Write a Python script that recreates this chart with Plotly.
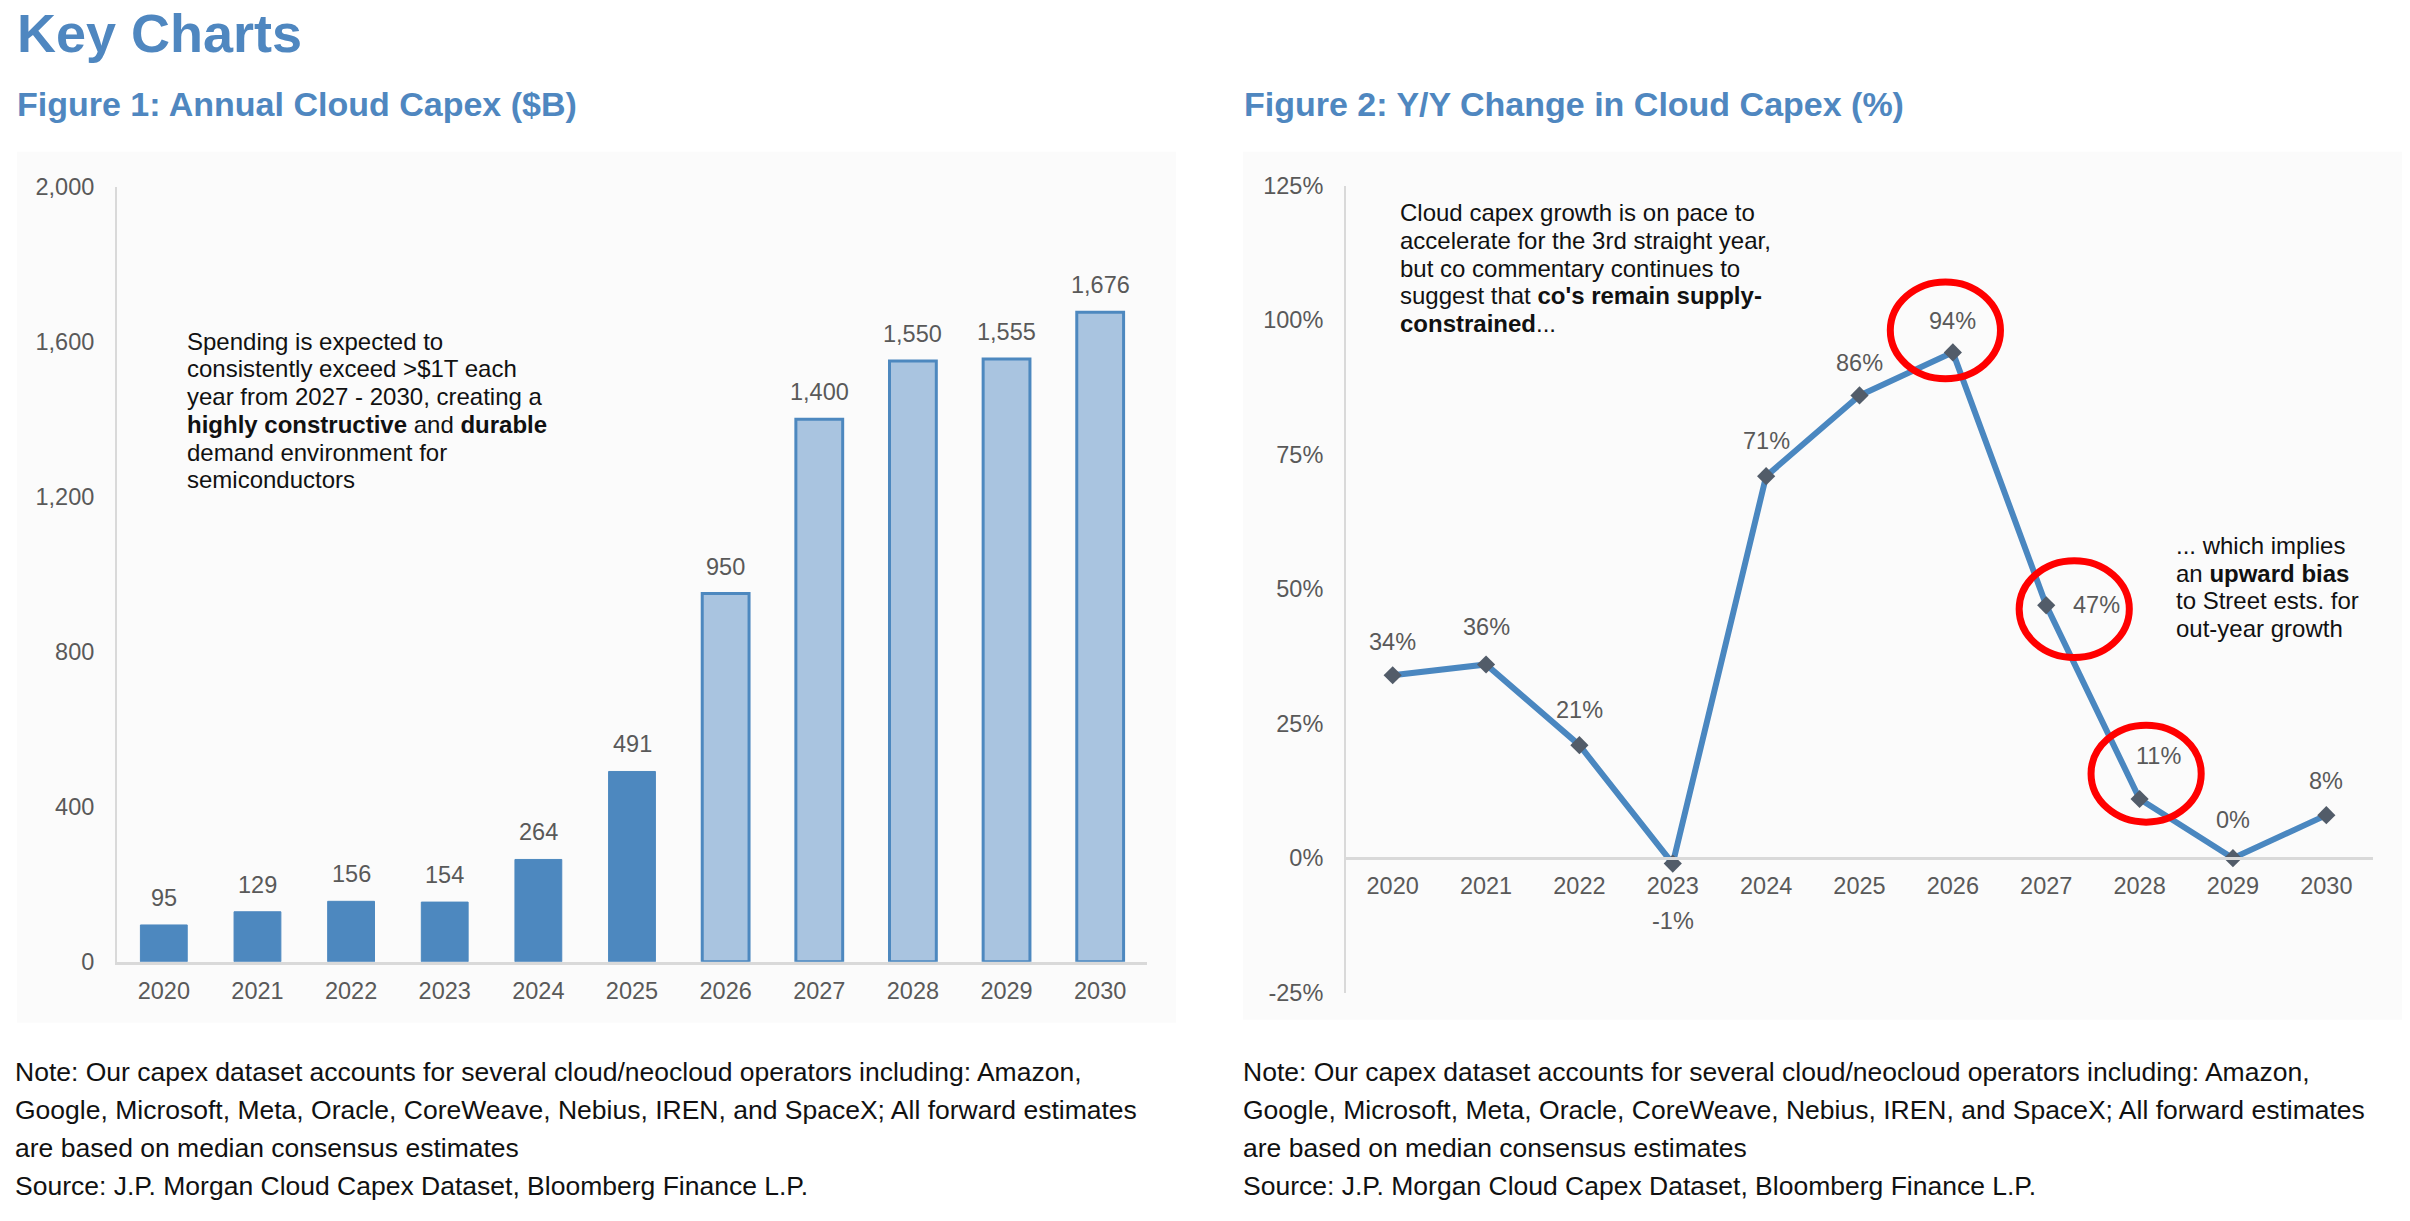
import plotly.graph_objects as go

# data
years = ["2020", "2021", "2022", "2023", "2024", "2025", "2026", "2027", "2028", "2029", "2030"]
capex = [95, 129, 156, 154, 264, 491, 950, 1400, 1550, 1555, 1676]
first_estimate_year = "2026"
yoy_change = [34, 36, 21, -1, 71, 86, 94, 47, 11, 0, 8]
highlight_years = ["2026", "2027", "2028"]

capex_ticks = [0, 400, 800, 1200, 1600, 2000]
yoy_ticks = [-25, 0, 25, 50, 75, 100, 125]

# styling
W, H = 2410, 1221
BLUE = "#4d88bf"
LIGHT_BLUE = "#a9c4e0"
TITLE_BLUE = "#4f87c0"
GRAY_TXT = "#595959"
AXIS_GRAY = "#d9d9d9"
FONT = "Liberation Sans, Arial, sans-serif"


def px(x):
    return x / W


def py(y):
    # screen y (px from top) -> paper y, with a small correction for the capture
    y = (y - 13) / 0.981
    return 1 - y / H


split = years.index(first_estimate_year)
idx = list(range(len(years)))

fig = go.Figure()

# Figure 1 - bars
fig.add_trace(go.Bar(
    x=years[:split], y=capex[:split],
    marker=dict(color=BLUE, line=dict(color=BLUE, width=1)),
    width=0.5, xaxis="x", yaxis="y", hoverinfo="x+y",
))
fig.add_trace(go.Bar(
    x=years[split:], y=capex[split:],
    marker=dict(color=LIGHT_BLUE, line=dict(color=BLUE, width=3)),
    width=0.5, xaxis="x", yaxis="y", hoverinfo="x+y",
))

# Figure 2 - line
fig.add_trace(go.Scatter(
    x=years, y=yoy_change, mode="lines+markers",
    line=dict(color="#4a87c0", width=6),
    marker=dict(symbol="diamond", size=14, color="#525c69"),
    xaxis="x2", yaxis="y2", hoverinfo="x+y",
))

annotations = []

# bar value labels (category index used as x position)
for i, v in zip(idx, capex):
    annotations.append(dict(
        x=i, y=v, xref="x", yref="y", text=f"{v:,}", showarrow=False,
        yshift=27, font=dict(family=FONT, size=23.5, color=GRAY_TXT),
    ))

# line value labels (offsets in px)
label_shift = [(0, 33), (0, 37), (0, 35), (0, -57), (0, 35), (0, 32),
               (0, 31), (50, 0), (19, 43), (0, 38), (0, 34)]
for i, v, (dx, dy) in zip(idx, yoy_change, label_shift):
    annotations.append(dict(
        x=i, y=v, xref="x2", yref="y2", text=f"{v}%", showarrow=False,
        xshift=dx, yshift=dy, font=dict(family=FONT, size=23.5, color=GRAY_TXT),
    ))


def text_lines(x0, y0, step, lines, size, color="#111111"):
    for k, line in enumerate(lines):
        annotations.append(dict(
            x=px(x0), y=py(y0 + k * step), xref="paper", yref="paper",
            xanchor="left", yanchor="middle", text=line, showarrow=False,
            font=dict(family=FONT, size=size, color=color),
        ))


# titles
text_lines(15, 33, 0, ["<b>Key Charts</b>"], 54, TITLE_BLUE)
text_lines(15, 104, 0, ["<b>Figure 1: Annual Cloud Capex ($B)</b>"], 34, TITLE_BLUE)
text_lines(1242, 104, 0, ["<b>Figure 2: Y/Y Change in Cloud Capex (%)</b>"], 34, TITLE_BLUE)

# in-chart commentary
text_lines(185, 342, 27.8, [
    "Spending is expected to",
    "consistently exceed >$1T each",
    "year from 2027 - 2030, creating a",
    "<b>highly constructive</b> and <b>durable</b>",
    "demand environment for",
    "semiconductors",
], 24)
text_lines(1398, 213, 27.8, [
    "Cloud capex growth is on pace to",
    "accelerate for the 3rd straight year,",
    "but co commentary continues to",
    "suggest that <b>co's remain supply-</b>",
    "<b>constrained</b>...",
], 24)
text_lines(2174, 547, 27.6, [
    "... which implies",
    "an <b>upward bias</b>",
    "to Street ests. for",
    "out-year growth",
], 24)

# notes
note_lines = [
    "Note: Our capex dataset accounts for several cloud/neocloud operators including: Amazon,",
    "Google, Microsoft, Meta, Oracle, CoreWeave, Nebius, IREN, and SpaceX; All forward estimates",
    "are based on median consensus estimates",
    "Source: J.P. Morgan Cloud Capex Dataset, Bloomberg Finance L.P.",
]
text_lines(13, 1074, 38.3, note_lines, 26.5)
text_lines(1241, 1074, 38.3, note_lines, 26.5)

# faint panel backgrounds and red highlight circles
shapes = [
    dict(type="rect", xref="paper", yref="paper", x0=px(17), x1=px(1176), y0=py(1025), y1=py(152),
         fillcolor="#fbfbfb", line=dict(width=0), layer="below"),
    dict(type="rect", xref="paper", yref="paper", x0=px(1243), x1=px(2402), y0=py(1022), y1=py(152),
         fillcolor="#fbfbfb", line=dict(width=0), layer="below"),
]
circle_offset = {"2026": (-0.08, 4.1), "2027": (0.30, -0.7), "2028": (0.07, 4.7)}
for yr in highlight_years:
    i = years.index(yr)
    dx, dy = circle_offset[yr]
    cx, cy = i + dx, yoy_change[i] + dy
    shapes.append(dict(
        type="circle", xref="x2", yref="y2",
        x0=cx - 0.59, x1=cx + 0.59, y0=cy - 9.0, y1=cy + 9.0,
        line=dict(color="#ff0000", width=7),
    ))

tick_font = dict(family=FONT, size=23.5, color=GRAY_TXT)

fig.update_layout(
    width=W, height=H,
    margin=dict(l=0, r=0, t=0, b=0),
    paper_bgcolor="white", plot_bgcolor="rgba(0,0,0,0)",
    showlegend=False, barmode="overlay",
    annotations=annotations, shapes=shapes,
    xaxis=dict(
        domain=[px(117), px(1147)], range=[-0.5, 10.5], type="category",
        showline=True, linecolor=AXIS_GRAY, linewidth=3, showgrid=False,
        ticks="", tickfont=tick_font, ticklabelstandoff=6, anchor="y",
    ),
    yaxis=dict(
        domain=[py(964), py(187)], range=[0, 2000], tickvals=capex_ticks,
        ticktext=[f"{t:,}" for t in capex_ticks],
        showline=True, linecolor=AXIS_GRAY, linewidth=2, showgrid=False, zeroline=False,
        ticks="", tickfont=tick_font, ticklabelstandoff=16, anchor="x",
    ),
    xaxis2=dict(
        domain=[px(1346), px(2373)], range=[-0.5, 10.5], type="category",
        anchor="free", position=py(860),
        showline=True, linecolor=AXIS_GRAY, linewidth=3, showgrid=False,
        ticks="", tickfont=tick_font, ticklabelstandoff=6,
    ),
    yaxis2=dict(
        domain=[py(995), py(186)], range=[-25, 125], tickvals=yoy_ticks,
        ticktext=[f"{t}%" for t in yoy_ticks],
        showline=True, linecolor=AXIS_GRAY, linewidth=2, showgrid=False, zeroline=False,
        ticks="", tickfont=tick_font, ticklabelstandoff=16, anchor="x2",
    ),
)

fig.write_html(
    "out.html",
    config={"displayModeBar": False},
    post_script="document.body.style.margin = '0'; document.body.style.overflow = 'hidden';",
)
